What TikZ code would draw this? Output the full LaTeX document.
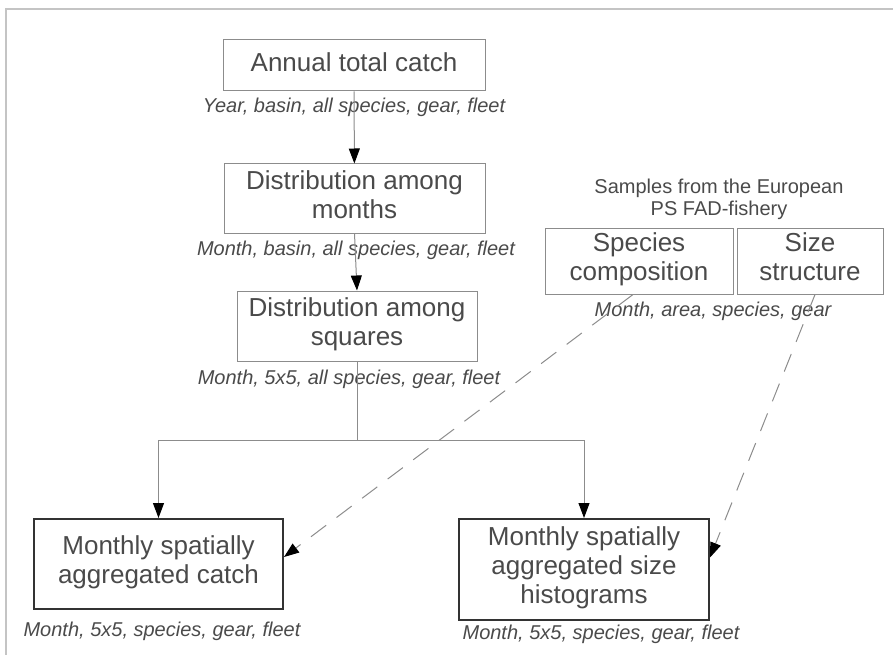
\documentclass[tikz,border=0pt]{standalone}
\usepackage{fontspec}
\setmainfont{Liberation Sans}
\usepackage{xcolor}
\usepackage{tikz}
\usetikzlibrary{arrows.meta,calc}
\definecolor{inkGray}{HTML}{4A4A4A}
\definecolor{edgeGray}{HTML}{8C8C8C}
\definecolor{frameGray}{HTML}{C4C4C4}
\definecolor{boldEdge}{HTML}{333333}

\begin{document}
\begin{tikzpicture}[x=1pt, y=-1pt,
  databox/.style={draw=edgeGray, line width=1pt, text=inkGray, align=center,
    font=\fontsize{26}{29}\selectfont, inner sep=0pt,
    execute at begin node=\strut, execute at end node=\rule[-4pt]{0pt}{4pt}},
  outbox/.style={databox, draw=boldEdge, line width=2pt},
  note/.style={text=inkGray, font=\fontsize{20}{23}\selectfont\itshape},
  flow/.style={draw=edgeGray, line width=1pt,
    -{Triangle[length=15pt, width=11pt, color=black]}},
  sampleflow/.style={flow, dash pattern=on 19pt off 13pt}]
  \useasboundingbox (0,0) rectangle (893,655);
  \draw[frameGray, line width=1.5pt] (6,655) -- (6,9) -- (893,9);

  % national catch chain
  \node[databox, execute at end node=\strut, minimum width=262pt, minimum height=51pt] (annual) at (354,65.5) {Annual total catch};
  \node[note] (annualnote) at (354,107) {Year, basin, all species, gear, fleet};
  \node[databox, minimum width=261pt, minimum height=69pt] (months) at (354.5,198.5) {Distribution among\\months};
  \node[note] (monthsnote) at (356,250) {Month, basin, all species, gear, fleet};
  \node[databox, minimum width=240pt, minimum height=70pt] (squares) at (357,326) {Distribution among\\squares};
  \node[note] (squaresnote) at (349,379) {Month, 5x5, all species, gear, fleet};

  % sampling data
  \node[text=inkGray, align=center, font=\fontsize{20}{22}\selectfont] (samples) at (719,199) {Samples from the European\\PS FAD-fishery};
  \node[databox, minimum width=188pt, minimum height=66pt] (species) at (639,261) {Species\\composition};
  \node[databox, minimum width=146pt, minimum height=66pt] (size) at (810,261) {Size\\structure};
  \node[note] (samplenote) at (713,311) {Month, area, species, gear};

  % outputs
  \node[outbox, minimum width=249pt, minimum height=90pt] (aggcatch) at (158.5,564) {Monthly spatially\\aggregated catch};
  \node[note] (catchnote) at (162,631) {Month, 5x5, species, gear, fleet};
  \node[outbox, minimum width=250pt, minimum height=101pt] (agghist) at (584,569.5) {Monthly spatially\\aggregated size\\histograms};
  \node[note] (histnote) at (601,634) {Month, 5x5, species, gear, fleet};

  \coordinate (split) at (357,440);

  \draw[flow] (annual) -- (months);
  \draw[flow] (months.south) -- (squares.north);
  \draw[edgeGray, line width=1pt] (squares.south) -- (split);
  \draw[flow] (split) -| (aggcatch.north);
  \draw[flow] (split) -| (agghist.north);
  \draw[sampleflow] ([xshift=-6pt]species.south) -- ([yshift=7pt]aggcatch.east);
  \draw[sampleflow] ([xshift=5pt]size.south) -- ([yshift=12pt]agghist.east);
\end{tikzpicture}
\end{document}
